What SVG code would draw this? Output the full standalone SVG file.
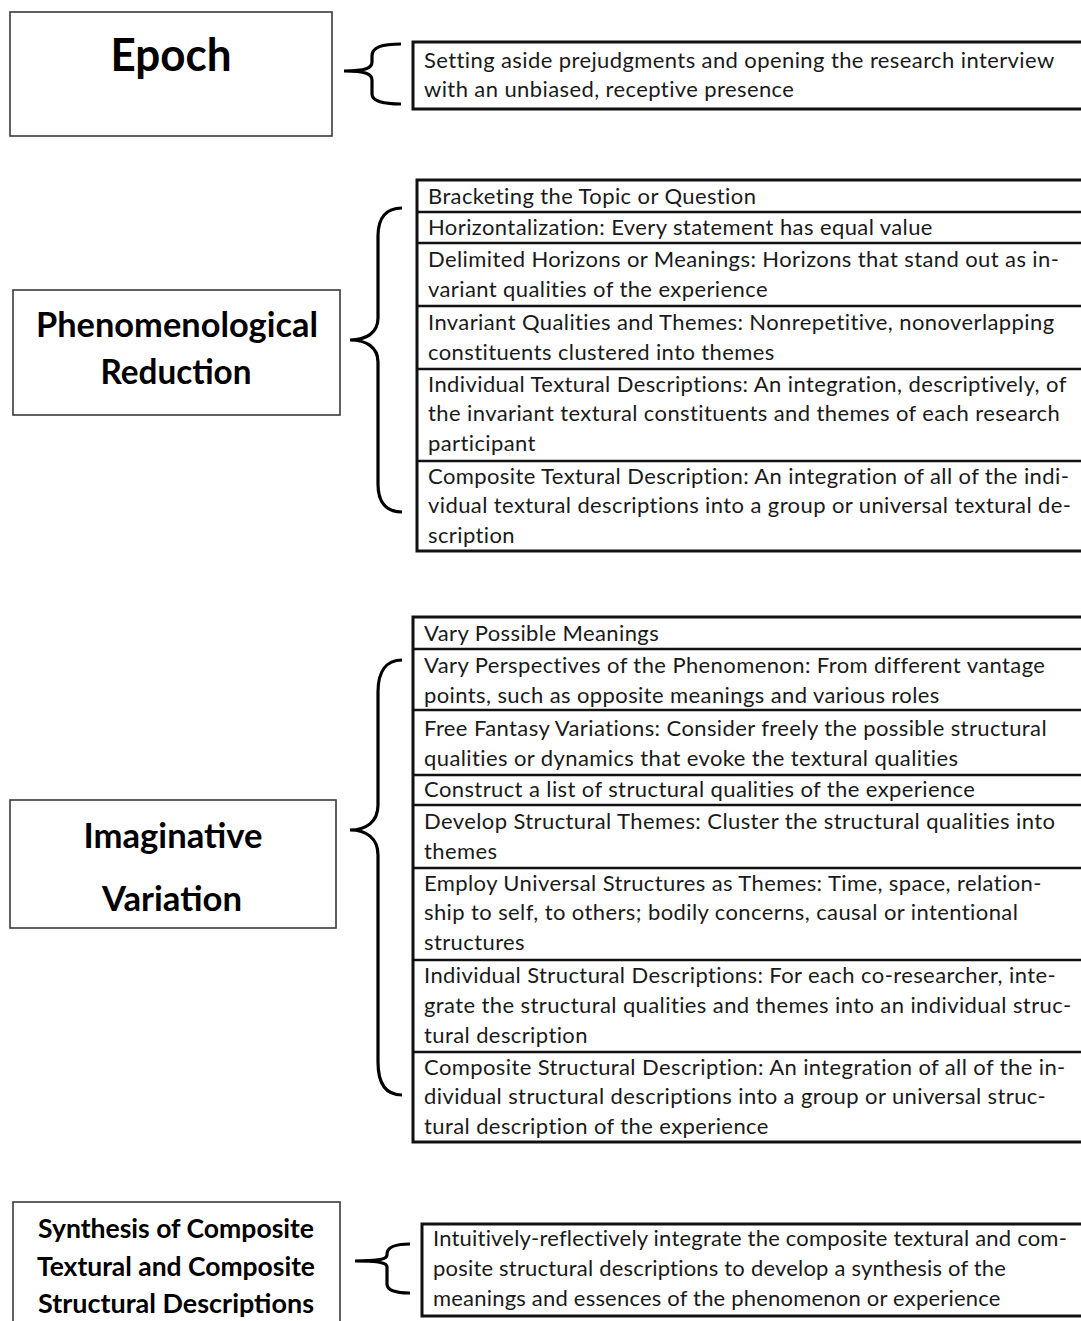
<svg xmlns="http://www.w3.org/2000/svg" width="1081" height="1321" viewBox="0 0 1081 1321">
<style>
.title{fill:none;stroke:#3a3a3a;stroke-width:1.6}
.tbl{fill:none;stroke:#111;stroke-width:3}
.div{stroke:#111;stroke-width:2.5}
.t{font-family:Lato,"Open Sans","Liberation Sans",sans-serif;font-size:22px;letter-spacing:0.4px;fill:#1a1a1a}
.s{letter-spacing:0.2px}
.h{font-family:Lato,"Open Sans","Liberation Sans",sans-serif;font-weight:bold;fill:#000;text-anchor:middle}
.brace{fill:none;stroke:#000;stroke-width:3.2;stroke-linecap:butt}
</style>
<rect x="0" y="0" width="1081" height="1321" fill="#fff"/>

<g id="epoch">
<rect class="title" x="10" y="12" width="322" height="124"/>
<text class="h" x="171" y="71" font-size="46" textLength="121" lengthAdjust="spacingAndGlyphs">Epoch</text>
</g>
<g id="epoch-desc">
<rect class="tbl" x="413" y="42" width="680" height="67"/>
<text class="t" x="424" y="68">Setting aside prejudgments and opening the research interview</text>
<text class="t" x="424" y="97">with an unbiased, receptive presence</text>
</g>

<g id="phenomenological">
<rect class="title" x="13" y="290" width="327" height="125"/>
<text class="h" x="177" y="337" font-size="34" textLength="282" lengthAdjust="spacingAndGlyphs">Phenomenological</text>
<text class="h" x="176" y="384" font-size="34" textLength="151" lengthAdjust="spacingAndGlyphs">Reduction</text>
</g>
<g id="reduction-steps">
<rect class="tbl" x="417" y="180" width="680" height="371"/>
<line class="div" x1="417" y1="212" x2="1081" y2="212"/>
<line class="div" x1="417" y1="243" x2="1081" y2="243"/>
<line class="div" x1="417" y1="306" x2="1081" y2="306"/>
<line class="div" x1="417" y1="369" x2="1081" y2="369"/>
<line class="div" x1="417" y1="461" x2="1081" y2="461"/>
<text class="t" x="428" y="204">Bracketing the Topic or Question</text>
<text class="t" x="428" y="235">Horizontalization: Every statement has equal value</text>
<text class="t" x="428" y="267">Delimited Horizons or Meanings: Horizons that stand out as in-</text>
<text class="t" x="428" y="297">variant qualities of the experience</text>
<text class="t" x="428" y="330">Invariant Qualities and Themes: Nonrepetitive, nonoverlapping</text>
<text class="t" x="428" y="360">constituents clustered into themes</text>
<text class="t" x="428" y="392">Individual Textural Descriptions: An integration, descriptively, of</text>
<text class="t" x="428" y="421">the invariant textural constituents and themes of each research</text>
<text class="t" x="428" y="451">participant</text>
<text class="t" x="428" y="484">Composite Textural Description: An integration of all of the indi-</text>
<text class="t" x="428" y="513">vidual textural descriptions into a group or universal textural de-</text>
<text class="t" x="428" y="543">scription</text>
</g>

<g id="imaginative">
<rect class="title" x="10" y="800" width="326" height="128"/>
<text class="h" x="173" y="848" font-size="34" textLength="179" lengthAdjust="spacingAndGlyphs">Imaginative</text>
<text class="h" x="172" y="911" font-size="34" textLength="140" lengthAdjust="spacingAndGlyphs">Variation</text>
</g>
<g id="variation-steps">
<rect class="tbl" x="413" y="617" width="684" height="525"/>
<line class="div" x1="413" y1="649" x2="1081" y2="649"/>
<line class="div" x1="413" y1="710" x2="1081" y2="710"/>
<line class="div" x1="413" y1="775" x2="1081" y2="775"/>
<line class="div" x1="413" y1="805" x2="1081" y2="805"/>
<line class="div" x1="413" y1="868" x2="1081" y2="868"/>
<line class="div" x1="413" y1="960" x2="1081" y2="960"/>
<line class="div" x1="413" y1="1052" x2="1081" y2="1052"/>
<text class="t" x="424" y="641">Vary Possible Meanings</text>
<text class="t" x="424" y="673">Vary Perspectives of the Phenomenon: From different vantage</text>
<text class="t" x="424" y="703">points, such as opposite meanings and various roles</text>
<text class="t" x="424" y="736">Free Fantasy Variations: Consider freely the possible structural</text>
<text class="t" x="424" y="766">qualities or dynamics that evoke the textural qualities</text>
<text class="t" x="424" y="797">Construct a list of structural qualities of the experience</text>
<text class="t" x="424" y="829">Develop Structural Themes: Cluster the structural qualities into</text>
<text class="t" x="424" y="859">themes</text>
<text class="t" x="424" y="891">Employ Universal Structures as Themes: Time, space, relation-</text>
<text class="t" x="424" y="920">ship to self, to others; bodily concerns, causal or intentional</text>
<text class="t" x="424" y="950">structures</text>
<text class="t" x="424" y="983">Individual Structural Descriptions: For each co-researcher, inte-</text>
<text class="t" x="424" y="1013">grate the structural qualities and themes into an individual struc-</text>
<text class="t" x="424" y="1043">tural description</text>
<text class="t" x="424" y="1075">Composite Structural Description: An integration of all of the in-</text>
<text class="t" x="424" y="1104">dividual structural descriptions into a group or universal struc-</text>
<text class="t" x="424" y="1134">tural description of the experience</text>
</g>

<g id="synthesis">
<rect class="title" x="13" y="1202" width="327" height="140"/>
<text class="h" x="176" y="1238" font-size="27" textLength="276" lengthAdjust="spacingAndGlyphs">Synthesis of Composite</text>
<text class="h" x="176" y="1276" font-size="27" textLength="278" lengthAdjust="spacingAndGlyphs">Textural and Composite</text>
<text class="h" x="176" y="1313" font-size="27" textLength="276" lengthAdjust="spacingAndGlyphs">Structural Descriptions</text>
</g>
<g id="synthesis-desc">
<rect class="tbl" x="422" y="1224" width="680" height="92"/>
<text class="t s" x="433" y="1246">Intuitively-reflectively integrate the composite textural and com-</text>
<text class="t s" x="433" y="1276">posite structural descriptions to develop a synthesis of the</text>
<text class="t s" x="433" y="1306">meanings and essences of the phenomenon or experience</text>
</g>

<g id="connectors">
<path class="brace" d="M401 44 C382 44 372 47 372 56 L372 62 C372 68 366 71 344 71 C366 71 372 74 372 80 L372 94 C372 101 382 104 401 104"/>
<path class="brace" d="M402 208 C386 208 378 218 378 236 L378 318 C378 333 366 340 350 340 C366 340 378 347 378 362 L378 484 C378 502 386 512 402 512"/>
<path class="brace" d="M402 660 C386 660 378 672 378 692 L378 805 C378 822 366 830 350 830 C366 830 378 838 378 855 L378 1062 C378 1084 386 1095 402 1095"/>
<path class="brace" d="M410 1244 C394 1244 387 1247 387 1254 L387 1255 C387 1259 380 1261 355 1261 C380 1261 387 1263 387 1267 L387 1284 C387 1290 394 1293 410 1293"/>
</g>
</svg>
